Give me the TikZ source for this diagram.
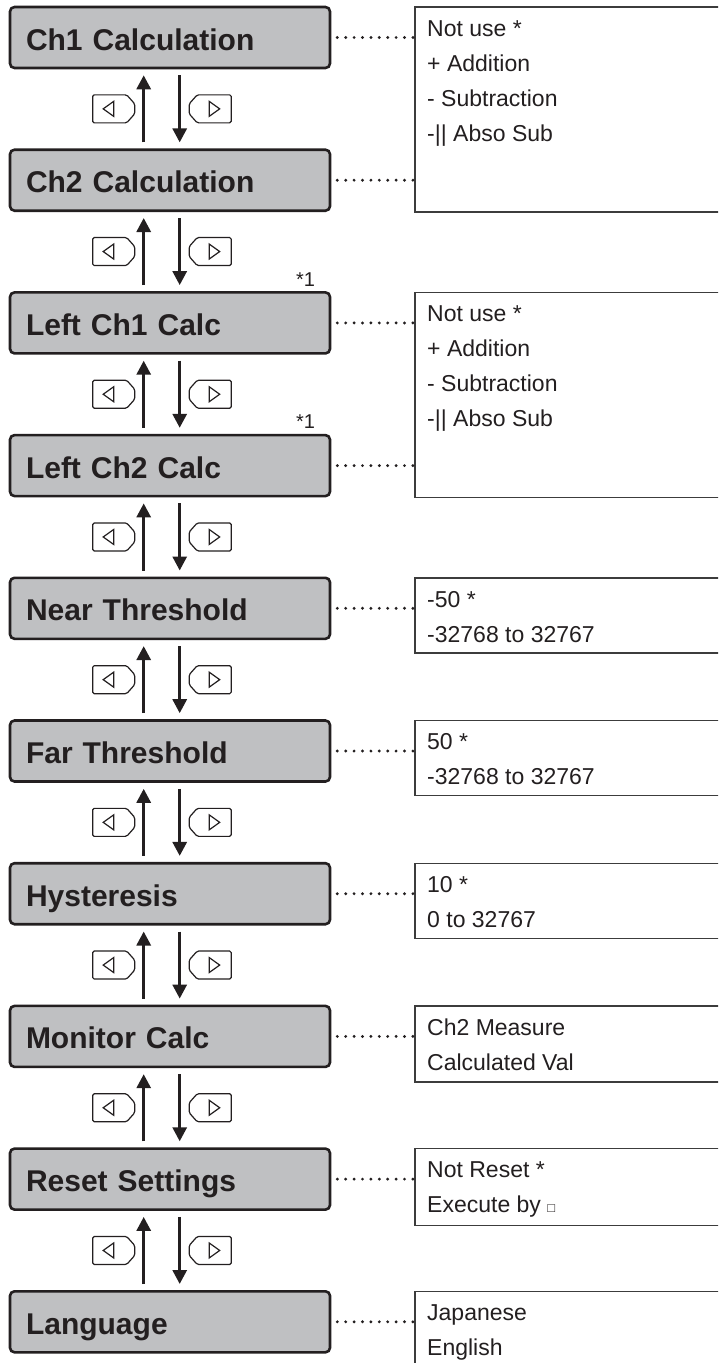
\documentclass[tikz,border=0pt]{standalone}
\usepackage{fontspec}
\setmainfont{Liberation Sans}
\usetikzlibrary{arrows.meta,calc}
\definecolor{boxgray}{RGB}{191,192,194}
\definecolor{ink}{RGB}{35,31,32}
\definecolor{framegray}{RGB}{60,60,60}
\begin{document}
\begin{tikzpicture}[x=1pt,y=-1pt,
  menubox/.style={draw=ink, line width=2.6pt, fill=boxgray, rounded corners=4.5pt,
    minimum width=320pt, minimum height=61pt, text width=288pt, inner xsep=16pt, inner ysep=0pt,
    align=left, text height=25pt, text depth=0pt, text=ink,
    font=\fontsize{30}{30}\selectfont\bfseries},
  optbox/.style={draw=framegray, line width=1.4pt, anchor=north west, inner sep=0pt, outer sep=0pt,
    minimum width=360pt},
  opttext/.style={anchor=base west, inner sep=0pt, text=ink, font=\fontsize{23}{27}\selectfont},
  notetext/.style={anchor=base west, inner sep=0pt, text=ink, font=\fontsize{20}{22}\selectfont},
  navarrow/.style={draw=ink, line width=3pt, -{Triangle[length=14pt,width=14pt]}},
  dotline/.style={draw=ink, line width=3.2pt, line cap=round, dash pattern=on 0pt off 8.4pt},
  btnline/.style={draw=ink, line width=1.2pt},
  lbtn/.pic={
    \draw[btnline, rounded corners=1.5pt] (-21,-14) -- (13,-14) -- (21,-5) -- (21,5) -- (13,14) -- (-21,14) -- cycle;
    \draw[btnline, line join=miter] (-10.5,0) -- (0,-7.5) -- (0,7.5) -- cycle;
  },
  rbtn/.pic={
    \draw[btnline, rounded corners=1.5pt] (21,-14) -- (-13,-14) -- (-21,-5) -- (-21,5) -- (-13,14) -- (21,14) -- cycle;
    \draw[btnline, line join=miter] (9.5,0) -- (-1,-7.5) -- (-1,7.5) -- cycle;
  }
]
\useasboundingbox (0,0) rectangle (718,1363);
\clip (0,0) rectangle (718,1363);
\fill[white] (0,0) rectangle (718,1363);

% menu boxes
\foreach \i/\t in {0/Ch1 Calculation,1/Ch2 Calculation,2/Left Ch1 Calc,3/Left Ch2 Calc,
  4/Near Threshold,5/Far Threshold,6/Hysteresis,7/Monitor Calc,8/Reset Settings,9/Language}
  \node[menubox] (g\i) at (170,{37.5+142.7*\i}) {\t};

% navigation arrows and buttons
\foreach \i in {0,...,8}{
  \pgfmathtruncatemacro{\j}{\i+1}
  \draw[navarrow] ($(g\j.north west)+(135,-6)$) -- ($(g\i.south west)+(135,6)$);
  \draw[navarrow] ($(g\i.south west)+(171,6)$) -- ($(g\j.north west)+(171,-6)$);
  \pic at ($(g\i.south west)!0.5!(g\j.north west)+(105,0)$) {lbtn};
  \pic at ($(g\i.south west)!0.5!(g\j.north west)+(201.5,0)$) {rbtn};
}

% notes
\node[notetext] (n2) at (296,286) {*1};
\node[notetext] (n3) at (296,428.7) {*1};

% option boxes
\node[optbox, minimum height=205pt] (r0) at (415,7) {};
\node[optbox, minimum height=205pt] (r2) at (415,292.4) {};
\node[optbox, minimum height=75pt] (r4) at (415,578) {};
\node[optbox, minimum height=75pt] (r5) at (415,720.7) {};
\node[optbox, minimum height=75pt] (r6) at (415,863.4) {};
\node[optbox, minimum height=76pt] (r7) at (415,1006) {};
\node[optbox, minimum height=77pt] (r8) at (415,1148.6) {};
\node[optbox, minimum height=120pt] (r9) at (415,1291.3) {};

% dotted connectors
\foreach \i/\r in {0/r0,1/r0,2/r2,3/r2,4/r4,5/r5,6/r6,7/r7,8/r8,9/r9}
  \draw[dotline] ([xshift=6pt]g\i.east) -- (g\i.east -| \r.west);

% option texts
\node[opttext] (t0a) at (427,36) {Not use *};
\node[opttext] (t0b) at (427,71) {+ Addition};
\node[opttext] (t0c) at (427,106) {- Subtraction};
\node[opttext] (t0d) at (427,141) {-|| Abso Sub};
\node[opttext] (t2a) at (427,321.4) {Not use *};
\node[opttext] (t2b) at (427,356.4) {+ Addition};
\node[opttext] (t2c) at (427,391.4) {- Subtraction};
\node[opttext] (t2d) at (427,426.4) {-|| Abso Sub};
\node[opttext] (t4a) at (427,607) {-50 *};
\node[opttext] (t4b) at (427,642) {-32768 to 32767};
\node[opttext] (t5a) at (427,749.7) {50 *};
\node[opttext] (t5b) at (427,784.7) {-32768 to 32767};
\node[opttext] (t6a) at (427,892.4) {10 *};
\node[opttext] (t6b) at (427,927.4) {0 to 32767};
\node[opttext] (t7a) at (427,1035) {Ch2 Measure};
\node[opttext] (t7b) at (427,1070) {Calculated Val};
\node[opttext] (t8a) at (427,1177.6) {Not Reset *};
\node[opttext] (t8b) at (427,1212.6) {Execute by {\fontsize{13}{13}\selectfont □}};
\node[opttext] (t9a) at (427,1320.3) {Japanese};
\node[opttext] (t9b) at (427,1355.3) {English};
\end{tikzpicture}
\end{document}
